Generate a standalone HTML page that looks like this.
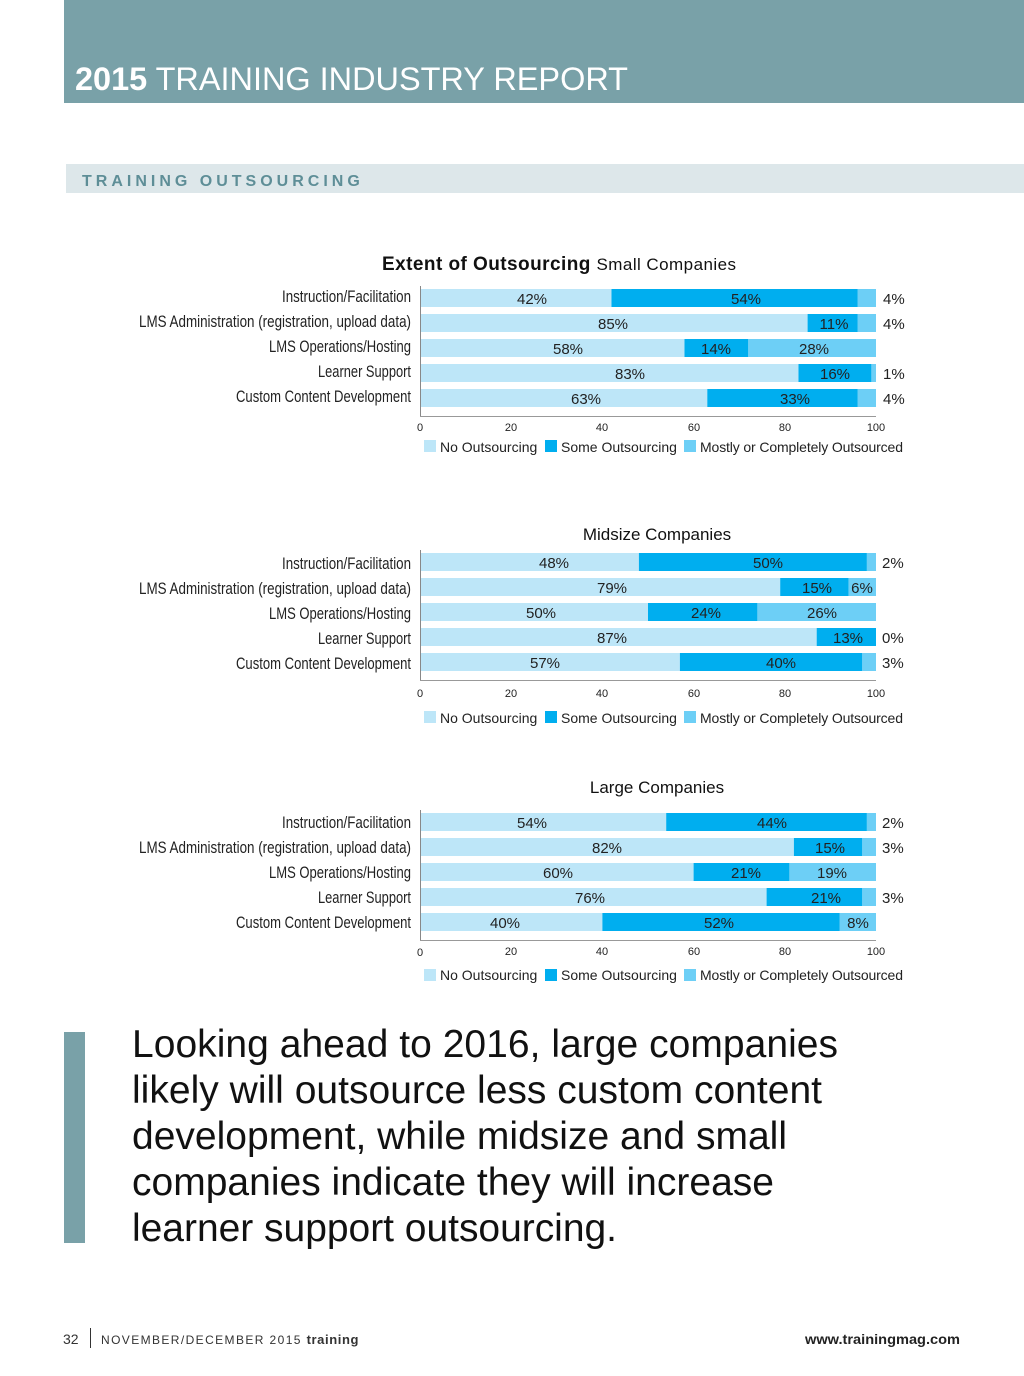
<!DOCTYPE html>
<html><head><meta charset="utf-8"><style>
html,body{margin:0;padding:0;background:#fff;}
svg{display:block;}
.cat{font-family:"Liberation Sans Narrow","Liberation Sans",sans-serif;font-size:17px;fill:#222;text-anchor:end;}
.v{font-family:"Liberation Sans",sans-serif;font-size:15px;fill:#222;text-anchor:middle;}
.o{font-family:"Liberation Sans",sans-serif;font-size:15px;fill:#222;}
.t{font-family:"Liberation Sans",sans-serif;font-size:11px;fill:#222;text-anchor:middle;}
.lg{font-family:"Liberation Sans",sans-serif;font-size:14px;fill:#222;}
.a{fill:#bde6f8}.b{fill:#00aeef}.c{fill:#6dcff6}
</style></head><body>
<svg width="1024" height="1376" xmlns="http://www.w3.org/2000/svg">
<defs>
<g id="cats" class="cat">
<text x="411" y="0" textLength="129" lengthAdjust="spacingAndGlyphs">Instruction/Facilitation</text>
<text x="411" y="25" textLength="272" lengthAdjust="spacingAndGlyphs">LMS Administration (registration, upload data)</text>
<text x="411" y="50" textLength="142" lengthAdjust="spacingAndGlyphs">LMS Operations/Hosting</text>
<text x="411" y="75" textLength="93" lengthAdjust="spacingAndGlyphs">Learner Support</text>
<text x="411" y="100" textLength="175" lengthAdjust="spacingAndGlyphs">Custom Content Development</text>
</g>
</defs>
<rect x="64" y="0" width="960" height="103" fill="#79a1a8"/>
<text x="75" y="90" font-family="Liberation Sans,sans-serif" font-size="32" fill="#fff" textLength="553" lengthAdjust="spacingAndGlyphs"><tspan font-weight="bold">2015</tspan> TRAINING INDUSTRY REPORT</text>
<rect x="66" y="164" width="958" height="29" fill="#dde7ea"/>
<text x="82" y="186" font-family="Liberation Sans,sans-serif" font-size="16" font-weight="bold" fill="#5e8e97" letter-spacing="4">TRAINING OUTSOURCING</text>

<text x="382" y="270" font-family="Liberation Sans,sans-serif" font-size="19" fill="#111" textLength="354"><tspan font-weight="bold">Extent of Outsourcing</tspan> <tspan font-size="17">Small Companies</tspan></text>
<text x="657" y="540" font-family="Liberation Sans,sans-serif" font-size="17" fill="#111" text-anchor="middle">Midsize Companies</text>
<text x="657" y="793" font-family="Liberation Sans,sans-serif" font-size="17" fill="#111" text-anchor="middle">Large Companies</text>

<!-- chart 1 -->
<g>
<use href="#cats" x="0" y="302"/>
<rect class="a" x="420" y="289" width="191.5" height="18"/><rect class="b" x="611.5" y="289" width="246.3" height="18"/><rect class="c" x="857.8" y="289" width="18.2" height="18"/>
<rect class="a" x="420" y="314" width="387.6" height="18"/><rect class="b" x="807.6" y="314" width="50.2" height="18"/><rect class="c" x="857.8" y="314" width="18.2" height="18"/>
<rect class="a" x="420" y="339" width="264.5" height="18"/><rect class="b" x="684.5" y="339" width="63.8" height="18"/><rect class="c" x="748.3" y="339" width="127.7" height="18"/>
<rect class="a" x="420" y="364" width="378.5" height="18"/><rect class="b" x="798.5" y="364" width="72.9" height="18"/><rect class="c" x="871.4" y="364" width="4.6" height="18"/>
<rect class="a" x="420" y="389" width="287.3" height="18"/><rect class="b" x="707.3" y="389" width="150.5" height="18"/><rect class="c" x="857.8" y="389" width="18.2" height="18"/>
<g class="v"><text x="532" y="304">42%</text><text x="746" y="304">54%</text><text x="613" y="329">85%</text><text x="834" y="329">11%</text><text x="568" y="354">58%</text><text x="716" y="354">14%</text><text x="814" y="354">28%</text><text x="630" y="379">83%</text><text x="835" y="379">16%</text><text x="586" y="404">63%</text><text x="795" y="404">33%</text></g>
<g class="o"><text x="883" y="304">4%</text><text x="883" y="329">4%</text><text x="883" y="379">1%</text><text x="883" y="404">4%</text></g>
<line x1="420.5" y1="286" x2="420.5" y2="417" stroke="#888"/><line x1="420" y1="416.5" x2="876" y2="416.5" stroke="#999"/>
<g class="t"><text x="420" y="431">0</text><text x="511" y="431">20</text><text x="602" y="431">40</text><text x="694" y="431">60</text><text x="785" y="431">80</text><text x="876" y="431">100</text></g>
<rect class="a" x="424" y="440" width="12" height="12"/><text class="lg" x="440" y="452">No Outsourcing</text>
<rect class="b" x="545" y="440" width="12" height="12"/><text class="lg" x="561" y="452">Some Outsourcing</text>
<rect class="c" x="684" y="440" width="12" height="12"/><text class="lg" x="700" y="452" textLength="203">Mostly or Completely Outsourced</text>
</g>

<!-- chart 2 -->
<g transform="translate(0,264)">
<use href="#cats" x="0" y="305"/>
<rect class="a" x="420" y="289" width="218.9" height="18"/><rect class="b" x="638.9" y="289" width="228" height="18"/><rect class="c" x="866.9" y="289" width="9.1" height="18"/>
<rect class="a" x="420" y="314" width="360.2" height="18"/><rect class="b" x="780.2" y="314" width="68.4" height="18"/><rect class="c" x="848.6" y="314" width="27.4" height="18"/>
<rect class="a" x="420" y="339" width="228" height="18"/><rect class="b" x="648" y="339" width="109.4" height="18"/><rect class="c" x="757.4" y="339" width="118.6" height="18"/>
<rect class="a" x="420" y="364" width="396.7" height="18"/><rect class="b" x="816.7" y="364" width="59.3" height="18"/>
<rect class="a" x="420" y="389" width="259.9" height="18"/><rect class="b" x="679.9" y="389" width="182.4" height="18"/><rect class="c" x="862.3" y="389" width="13.7" height="18"/>
<g class="v"><text x="554" y="304">48%</text><text x="768" y="304">50%</text><text x="612" y="329">79%</text><text x="817" y="329">15%</text><text x="862" y="329">6%</text><text x="541" y="354">50%</text><text x="706" y="354">24%</text><text x="822" y="354">26%</text><text x="612" y="379">87%</text><text x="848" y="379">13%</text><text x="545" y="404">57%</text><text x="781" y="404">40%</text></g>
<g class="o"><text x="882" y="304">2%</text><text x="882" y="379">0%</text><text x="882" y="404">3%</text></g>
<line x1="420.5" y1="286" x2="420.5" y2="417" stroke="#888"/><line x1="420" y1="416.5" x2="876" y2="416.5" stroke="#999"/>
<g class="t"><text x="420" y="433">0</text><text x="511" y="433">20</text><text x="602" y="433">40</text><text x="694" y="433">60</text><text x="785" y="433">80</text><text x="876" y="433">100</text></g>
<rect class="a" x="424" y="447" width="12" height="12"/><text class="lg" x="440" y="459">No Outsourcing</text>
<rect class="b" x="545" y="447" width="12" height="12"/><text class="lg" x="561" y="459">Some Outsourcing</text>
<rect class="c" x="684" y="447" width="12" height="12"/><text class="lg" x="700" y="459" textLength="203">Mostly or Completely Outsourced</text>
</g>

<!-- chart 3 -->
<g transform="translate(0,524)">
<use href="#cats" x="0" y="304"/>
<rect class="a" x="420" y="289" width="246.2" height="18"/><rect class="b" x="666.2" y="289" width="200.7" height="18"/><rect class="c" x="866.9" y="289" width="9.1" height="18"/>
<rect class="a" x="420" y="314" width="373.9" height="18"/><rect class="b" x="793.9" y="314" width="68.4" height="18"/><rect class="c" x="862.3" y="314" width="13.7" height="18"/>
<rect class="a" x="420" y="339" width="273.6" height="18"/><rect class="b" x="693.6" y="339" width="95.8" height="18"/><rect class="c" x="789.4" y="339" width="86.6" height="18"/>
<rect class="a" x="420" y="364" width="346.6" height="18"/><rect class="b" x="766.6" y="364" width="95.7" height="18"/><rect class="c" x="862.3" y="364" width="13.7" height="18"/>
<rect class="a" x="420" y="389" width="182.4" height="18"/><rect class="b" x="602.4" y="389" width="237.1" height="18"/><rect class="c" x="839.5" y="389" width="36.5" height="18"/>
<g class="v"><text x="532" y="304">54%</text><text x="772" y="304">44%</text><text x="607" y="329">82%</text><text x="830" y="329">15%</text><text x="558" y="354">60%</text><text x="746" y="354">21%</text><text x="832" y="354">19%</text><text x="590" y="379">76%</text><text x="826" y="379">21%</text><text x="505" y="404">40%</text><text x="719" y="404">52%</text><text x="858" y="404">8%</text></g>
<g class="o"><text x="882" y="304">2%</text><text x="882" y="329">3%</text><text x="882" y="379">3%</text></g>
<line x1="420.5" y1="286" x2="420.5" y2="417" stroke="#888"/><line x1="420" y1="416.5" x2="876" y2="416.5" stroke="#999"/>
<g class="t"><text x="420" y="432">0</text><text x="511" y="431">20</text><text x="602" y="431">40</text><text x="694" y="431">60</text><text x="785" y="431">80</text><text x="876" y="431">100</text></g>
<rect class="a" x="424" y="445" width="12" height="12"/><text class="lg" x="440" y="456">No Outsourcing</text>
<rect class="b" x="545" y="445" width="12" height="12"/><text class="lg" x="561" y="456">Some Outsourcing</text>
<rect class="c" x="684" y="445" width="12" height="12"/><text class="lg" x="700" y="456" textLength="203">Mostly or Completely Outsourced</text>
</g>

<rect x="64" y="1032" width="21" height="211" fill="#79a1a8"/>
<g font-family="Liberation Sans,sans-serif" font-size="39" fill="#111" lengthAdjust="spacingAndGlyphs">
<text x="132" y="1057" textLength="706">Looking ahead to 2016, large companies</text>
<text x="132" y="1103" textLength="690">likely will outsource less custom content</text>
<text x="132" y="1149" textLength="655">development, while midsize and small</text>
<text x="132" y="1195" textLength="642">companies indicate they will increase</text>
<text x="132" y="1241" textLength="485">learner support outsourcing.</text>
</g>

<text x="63" y="1344" font-family="Liberation Sans,sans-serif" font-size="14" fill="#333">32</text>
<line x1="90.5" y1="1328" x2="90.5" y2="1348" stroke="#333"/>
<text x="101" y="1344" font-family="Liberation Sans,sans-serif" font-size="12" fill="#333" letter-spacing="1.4">NOVEMBER/DECEMBER 2015 <tspan font-weight="bold" letter-spacing="0.6" font-size="13">training</tspan></text>
<text x="960" y="1344" font-family="Liberation Sans,sans-serif" font-size="14" font-weight="bold" fill="#222" text-anchor="end" textLength="155" lengthAdjust="spacingAndGlyphs">www.trainingmag.com</text>
</svg>
</body></html>
